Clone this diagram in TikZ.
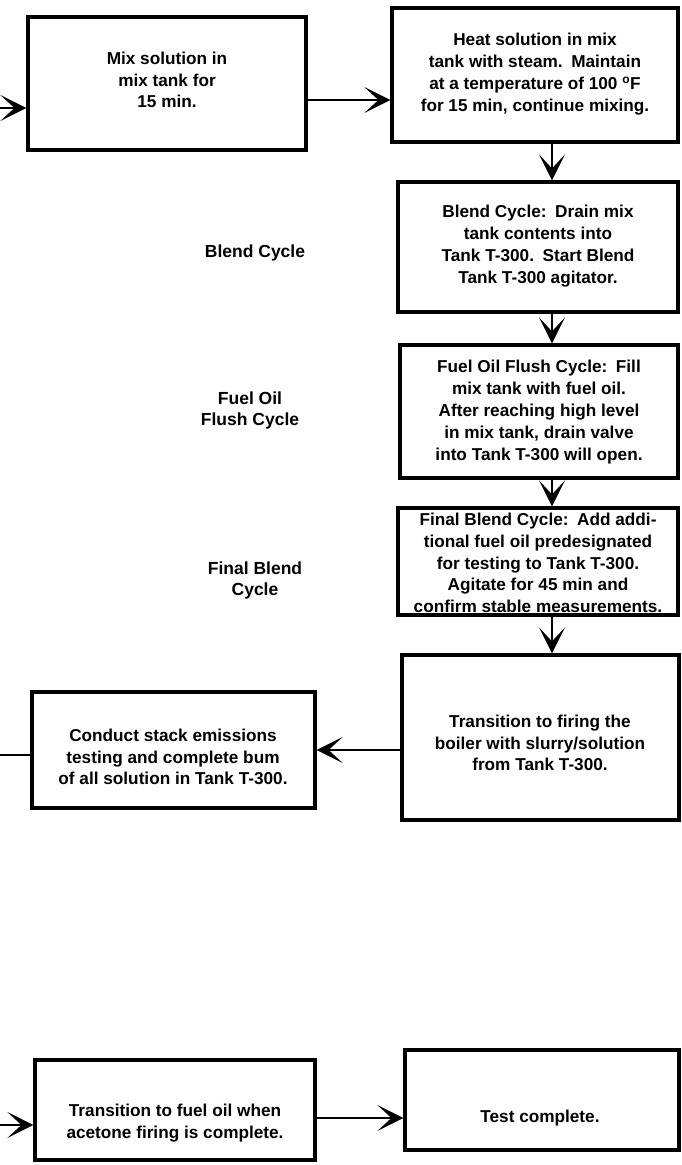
\documentclass[tikz,border=0pt]{standalone}
\usepackage{fontspec}
\setmainfont{Liberation Sans}
\usetikzlibrary{arrows.meta}
\tikzset{
  box/.style={draw=black, line width=3.2pt, rectangle, inner sep=0pt, fill=none},
  txt/.style={align=center, inner sep=0pt, font=\bfseries\fontsize{17.2}{21.8}\selectfont},
  lbl/.style={align=center, inner sep=0pt, font=\bfseries\fontsize{17.5}{21}\selectfont},
  flow/.style={line width=2.6pt, -{Stealth[length=26pt,width=26pt,inset=14pt]}},
  plain/.style={line width=2.6pt}
}
\begin{document}
\begin{tikzpicture}[x=1pt,y=-1pt]
\useasboundingbox (0,0) rectangle (681,1165);
% boxes
\node[box, minimum width=278pt, minimum height=133pt] (b1) at (167,83.5) {};
\node[box, minimum width=286pt, minimum height=134pt] (b2) at (535,75) {};
\node[box, minimum width=280pt, minimum height=130pt] (b3) at (538,247) {};
\node[box, minimum width=278pt, minimum height=133pt] (b4) at (539,411.5) {};
\node[box, minimum width=280pt, minimum height=107pt] (b5) at (538,561.5) {};
\node[box, minimum width=277pt, minimum height=165pt] (b6) at (540.5,737.5) {};
\node[box, minimum width=283pt, minimum height=116pt] (b7) at (173.5,750) {};
\node[box, minimum width=280pt, minimum height=100pt] (b8) at (175,1110) {};
\node[box, minimum width=274pt, minimum height=100pt] (b9) at (542,1100) {};
% texts
\node[txt] (t1) at (167,80) {Mix solution in\\mix tank for\\15 min.};
\node[txt] (t2) at (535,74) {Heat solution in mix\\tank with steam.\enspace Maintain\\at a temperature of 100 \textsuperscript{o}F\\for 15 min, continue mixing.};
\node[txt] (t3) at (538,246) {Blend Cycle:\enspace Drain mix\\tank contents into\\Tank T-300.\enspace Start Blend\\Tank T-300 agitator.};
\node[txt] (t4) at (539,412) {Fuel Oil Flush Cycle:\enspace Fill\\mix tank with fuel oil.\\After reaching high level\\in mix tank, drain valve\\into Tank T-300 will open.};
\node[txt] (t5) at (538,563) {Final Blend Cycle:\enspace Add addi-\\tional fuel oil predesignated\\for testing to Tank T-300.\\Agitate for 45 min and\\confirm stable measurements.};
\node[txt] (t6) at (540,743) {Transition to firing the\\boiler with slurry/solution\\from Tank T-300.};
\node[txt] (t7) at (173,757) {Conduct stack emissions\\testing and complete bum\\of all solution in Tank T-300.};
\node[txt] (t8) at (175,1123) {Transition to fuel oil when\\acetone firing is complete.};
\node[txt] (t9) at (540,1118) {Test complete.};
% side labels
\node[lbl] (l1) at (255,253) {Blend Cycle};
\node[lbl] (l2) at (250,410) {Fuel Oil\\Flush Cycle};
\node[lbl] (l3) at (255,580) {Final Blend\\Cycle};
% free ends
\coordinate (in1) at (0,108);
\coordinate (out7) at (0,755);
\coordinate (in8) at (0,1125);
% connectors
\draw[flow] (in1) -- (in1 -| b1.west);
\draw[flow] (b1.east |- 0,100) -- (b2.west |- 0,100);
\draw[flow] (b2.south -| 552,0) -- (b3.north -| 552,0);
\draw[flow] (b3.south -| 552,0) -- (b4.north -| 552,0);
\draw[flow] (b4.south -| 552,0) -- (b5.north -| 552,0);
\draw[flow] (b5.south -| 552,0) -- (b6.north -| 552,0);
\draw[flow] (b6.west |- 0,750) -- (b7.east |- 0,750);
\draw[plain] (b7.west |- out7) -- (out7);
\draw[flow] (in8) -- (in8 -| b8.west);
\draw[flow] (b8.east |- 0,1118) -- (b9.west |- 0,1118);
\end{tikzpicture}
\end{document}
